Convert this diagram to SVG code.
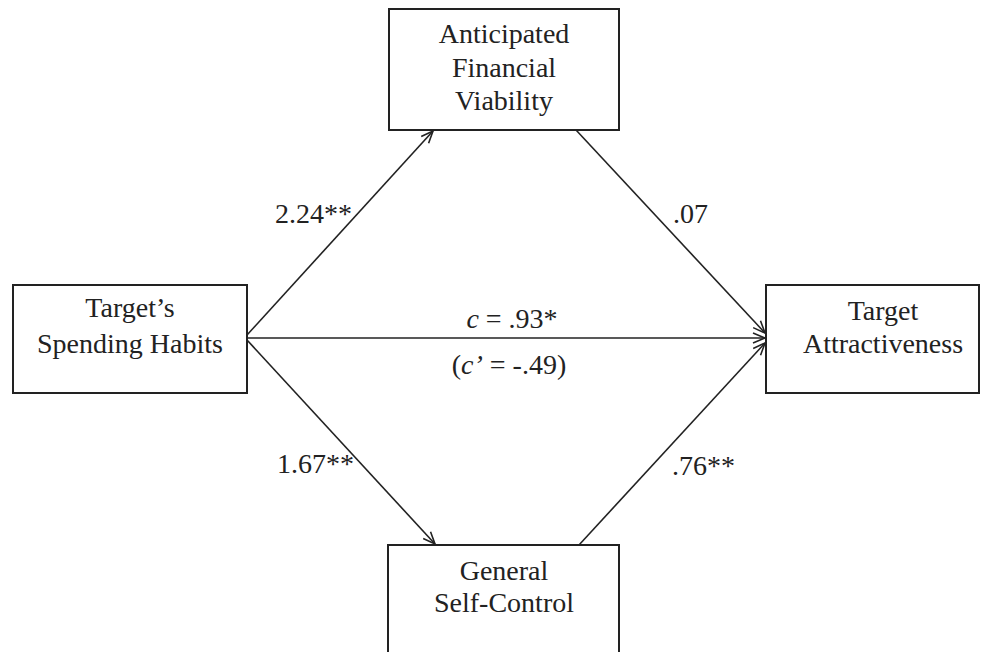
<svg xmlns="http://www.w3.org/2000/svg" width="990" height="652" viewBox="0 0 990 652">
<style>
.box{fill:#fff;stroke:#222;stroke-width:2}
.t{font-family:"Liberation Serif","Times New Roman",serif;font-size:28px;fill:#222;text-anchor:middle}
.l{font-family:"Liberation Serif","Times New Roman",serif;font-size:28px;fill:#222}
.c{stroke:#222;stroke-width:1.6;fill:none;marker-end:url(#arr)}
</style>
<defs>
<marker id="arr" markerWidth="14" markerHeight="12" refX="13" refY="6" orient="auto" markerUnits="userSpaceOnUse">
<path d="M1,1 L13,6 L1,11" fill="none" stroke="#222" stroke-width="1.6"/>
</marker>
</defs>
<rect width="990" height="652" fill="#fff"/>
<g id="connectors">
<line class="c" x1="247" y1="335" x2="433" y2="131"/>
<line class="c" x1="576" y1="130" x2="765" y2="333"/>
<line class="c" x1="247" y1="338" x2="765" y2="338"/>
<line class="c" x1="247" y1="340" x2="435" y2="544"/>
<line class="c" x1="579" y1="545" x2="765" y2="343"/>
</g>
<g id="node-afv">
<rect class="box" x="389" y="9" width="230" height="121"/>
<text class="t" x="504" y="43">Anticipated</text>
<text class="t" x="504" y="77">Financial</text>
<text class="t" x="504" y="110">Viability</text>
</g>
<g id="node-tsh">
<rect class="box" x="13" y="285" width="234" height="108"/>
<text class="t" x="130" y="317">Target’s</text>
<text class="t" x="130" y="353">Spending Habits</text>
</g>
<g id="node-ta">
<rect class="box" x="766" y="285" width="213" height="108"/>
<text class="t" x="883" y="320">Target</text>
<text class="t" x="883" y="353">Attractiveness</text>
</g>
<g id="node-gsc">
<rect class="box" x="388" y="545" width="231" height="120"/>
<text class="t" x="504" y="580">General</text>
<text class="t" x="504" y="612">Self-Control</text>
</g>
<g id="labels">
<text class="l" x="275" y="223">2.24**</text>
<text class="l" x="673" y="223">.07</text>
<text class="l" x="277" y="473">1.67**</text>
<text class="l" x="672" y="475">.76**</text>
<text class="t" x="512" y="328"><tspan font-style="italic">c</tspan> = .93*</text>
<text class="t" x="509" y="374">(<tspan font-style="italic">c’</tspan> = -.49)</text>
</g>
</svg>
